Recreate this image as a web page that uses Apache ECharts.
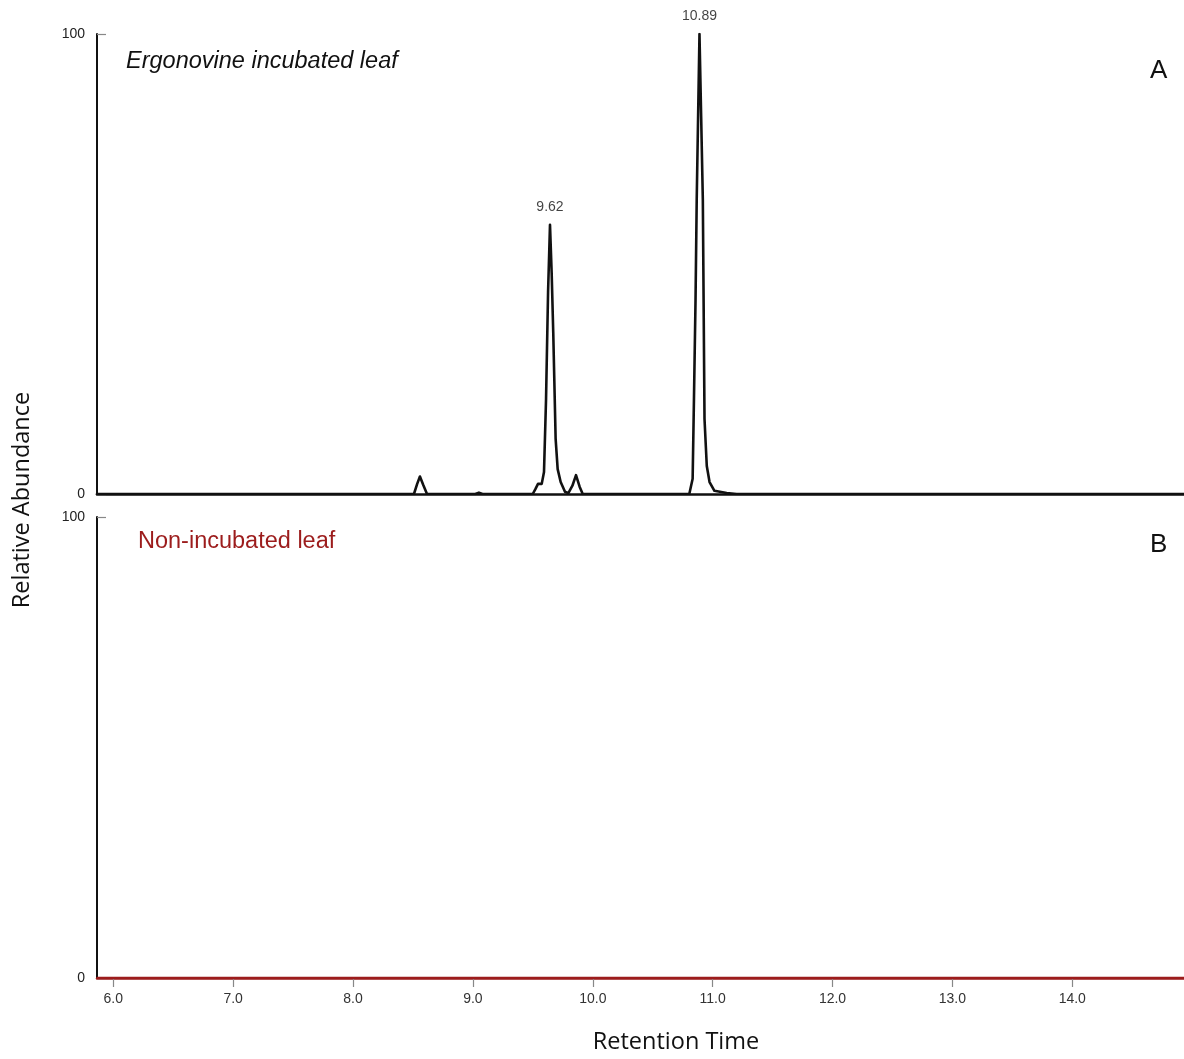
<!DOCTYPE html>
<html>
<head>
<meta charset="utf-8">
<script src="https://cdn.jsdelivr.net/npm/echarts@6/dist/echarts.min.js"></script>
<style>
html,body{margin:0;padding:0;background:#fff;}
#chart{width:1184px;height:1059px;}
</style>
</head>
<body>
<div id="chart"></div>
<script>
// Retention time range and tick labels
const xMin = 5.864;
const xMax = 14.932;
const xTicks = [6, 7, 8, 9, 10, 11, 12, 13, 14];
const yTicks = [0, 100];

// Panel A: Ergonovine incubated leaf (retention time, relative abundance)
const topRT = [5.864, 8.45, 8.508, 8.535, 8.558, 8.585, 8.617, 9.02, 9.05, 9.08, 9.499, 9.52, 9.543, 9.574, 9.593, 9.610, 9.627, 9.643, 9.657, 9.670, 9.690, 9.707, 9.732, 9.768, 9.796, 9.83, 9.860, 9.89, 9.916, 10.805, 10.833, 10.844, 10.857, 10.867, 10.89, 10.904, 10.918, 10.932, 10.951, 10.974, 11.015, 11.117, 11.2, 14.932];
const topAbund = [0, 0, 0, 2.2, 3.8, 2.0, 0, 0, 0.3, 0, 0, 1.0, 2.2, 2.2, 4.8, 20.6, 44, 58.5, 48, 35.2, 12.0, 5.4, 2.6, 0.5, 0.2, 1.8, 4.1, 1.6, 0, 0, 3.3, 20.7, 42, 64, 100, 82, 64, 16.3, 6.1, 2.6, 0.7, 0.2, 0, 0];

// Peak annotations
const peakRT = [9.643, 10.89];
const peakAbund = [58.5, 100];
const peakText = ['9.62', '10.89'];

// Panel B: Non-incubated leaf (flat trace)
const botRT = [5.864, 14.932];
const botAbund = [0, 0];

const RED = '#9c1c1c';
const font = 'Liberation Sans, Arial, sans-serif';

const chart = echarts.init(document.getElementById('chart'));

function xAxisCfg(gi, showLabels, lineColor) {
  return {
    type: 'value', gridIndex: gi, min: xMin, max: xMax,
    axisLine: {show: true, onZero: false, lineStyle: {color: lineColor, width: 2.5}},
    axisTick: {show: showLabels, customValues: xTicks, length: 9, lineStyle: {color: '#888', width: 1.2}},
    axisLabel: {show: showLabels, customValues: xTicks, formatter: v => v.toFixed(1), color: '#333', fontFamily: font, fontSize: 14, margin: 14},
    splitLine: {show: false}
  };
}
function yAxisCfg(gi) {
  return {
    type: 'value', gridIndex: gi, min: 0, max: 100, interval: 100,
    axisLine: {show: true, lineStyle: {color: '#111', width: 2}},
    axisTick: {show: true, inside: true, length: 9, lineStyle: {color: '#888', width: 1.2}},
    axisLabel: {color: '#222', fontFamily: font, fontSize: 14, margin: 12},
    splitLine: {show: false}
  };
}

const zip = (a, b) => a.map((v, i) => [v, b[i]]);

chart.setOption({
  animation: false,
  backgroundColor: '#fff',
  grid: [
    {left: 97, right: 0, top: 34, height: 460},
    {left: 97, right: 0, top: 517, height: 461}
  ],
  xAxis: [xAxisCfg(0, false, '#111'), xAxisCfg(1, true, RED)],
  yAxis: [yAxisCfg(0), yAxisCfg(1)],
  series: [
    {
      type: 'line', xAxisIndex: 0, yAxisIndex: 0, data: zip(topRT, topAbund),
      showSymbol: false, symbol: 'none',
      lineStyle: {color: '#111', width: 2.6, join: 'round', cap: 'round'}, z: 3
    },
    {
      type: 'scatter', xAxisIndex: 0, yAxisIndex: 0,
      data: peakRT.map((r, i) => [r, peakAbund[i], peakText[i]]),
      symbolSize: 0, silent: true,
      label: {show: true, position: 'top', distance: 11, formatter: p => p.value[2], color: '#111', fontFamily: font, fontSize: 14}
    },
    {
      type: 'line', xAxisIndex: 1, yAxisIndex: 1, data: zip(botRT, botAbund),
      showSymbol: false, symbol: 'none', lineStyle: {color: RED, width: 2.5}
    }
  ],
  graphic: [
    {type: 'text', left: 126, top: 50, style: {text: 'Ergonovine incubated leaf', font: 'italic 23.5px ' + font, fill: '#111'}},
    {type: 'text', left: 1150, top: 58, style: {text: 'A', font: '26px ' + font, fill: '#111'}},
    {type: 'text', left: 138, top: 530, style: {text: 'Non-incubated leaf', font: '23.5px ' + font, fill: RED}},
    {type: 'text', left: 1150, top: 532, style: {text: 'B', font: '26px ' + font, fill: '#111'}},
    {type: 'text', x: 676, y: 1042, style: {text: 'Retention Time', font: '23.5px "Open Sans", sans-serif', fill: '#111', align: 'center', verticalAlign: 'middle'}},
    {type: 'text', x: 22, y: 500, rotation: Math.PI / 2, style: {text: 'Relative Abundance', font: '23.5px "Open Sans", sans-serif', fill: '#111', align: 'center', verticalAlign: 'middle'}}
  ]
});
</script>
</body>
</html>
